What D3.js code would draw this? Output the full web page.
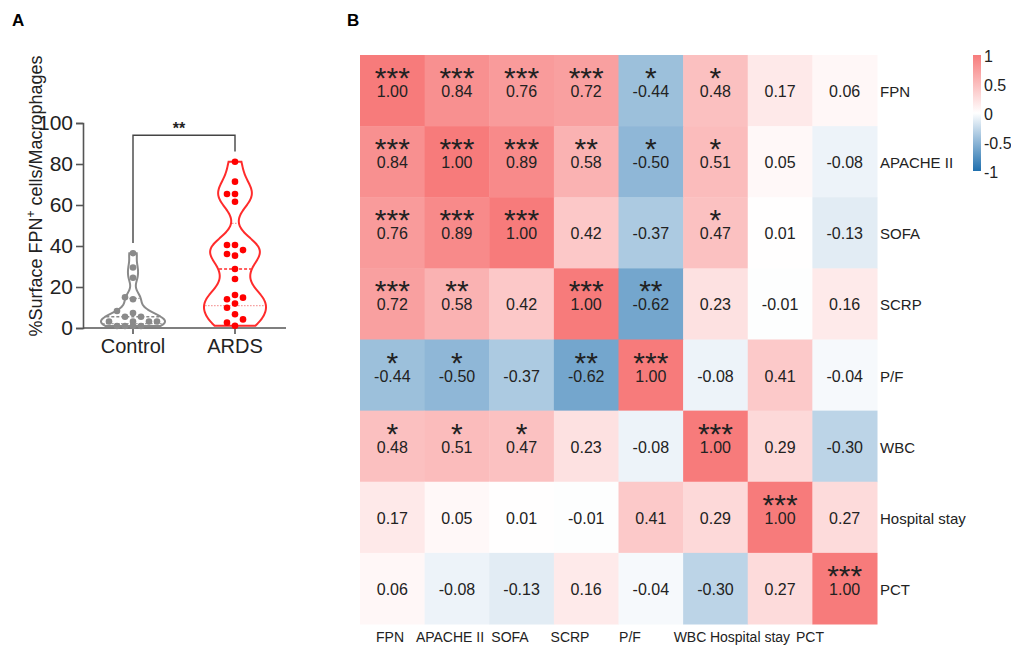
<!DOCTYPE html>
<meta charset="utf-8">
<script src="https://d3js.org/d3.v7.min.js"></script>
<style>
  body { margin: 0; background: #fff; }
  svg { font-family: "Liberation Sans", Arial, sans-serif; }
</style>
<svg id="chart" width="1011" height="646"></svg>
<script>

// ---- panel A data ----
const groups = ["Control", "ARDS"];
const controlValues = [36.5, 29.5, 24.5, 15, 14, 8.3, 7.3, 5.5, 5.5, 3.2, 3.2, 3.2, 3.2, 1, 1, 1, 1];
const ardsValues = [81.1, 71.4, 65.4, 65.4, 61.6, 40.5, 40.5, 38, 36.1, 35.3, 28.8, 23.9,
                    16.1, 14.8, 14, 11.9, 9.9, 6.7, 4.2, 2.6, 1.1];
const yTicksA = [0, 20, 40, 60, 80, 100];

// ---- panel B data (correlation matrix) ----
const vars = ["FPN", "APACHE II", "SOFA", "SCRP", "P/F", "WBC", "Hospital stay", "PCT"];
const corr = [
  [1.00, 0.84, 0.76, 0.72, -0.44, 0.48, 0.17, 0.06],
  [0.84, 1.00, 0.89, 0.58, -0.50, 0.51, 0.05, -0.08],
  [0.76, 0.89, 1.00, 0.42, -0.37, 0.47, 0.01, -0.13],
  [0.72, 0.58, 0.42, 1.00, -0.62, 0.23, -0.01, 0.16],
  [-0.44, -0.50, -0.37, -0.62, 1.00, -0.08, 0.41, -0.04],
  [0.48, 0.51, 0.47, 0.23, -0.08, 1.00, 0.29, -0.30],
  [0.17, 0.05, 0.01, -0.01, 0.41, 0.29, 1.00, 0.27],
  [0.06, -0.08, -0.13, 0.16, -0.04, -0.30, 0.27, 1.00]
];
const stars = [
  ["***", "***", "***", "***", "*", "*", "", ""],
  ["***", "***", "***", "**", "*", "*", "", ""],
  ["***", "***", "***", "", "", "*", "", ""],
  ["***", "**", "", "***", "**", "", "", ""],
  ["*", "*", "", "**", "***", "", "", ""],
  ["*", "*", "*", "", "", "***", "", ""],
  ["", "", "", "", "", "", "***", ""],
  ["", "", "", "", "", "", "", "***"]
];
const legendTicks = [1, 0.5, 0, -0.5, -1];

const svg = d3.select("#chart");

// panel letters
svg.append("text").attr("x", 12).attr("y", 26).text("A")
  .style("font-size", "17px").style("font-weight", "bold");
svg.append("text").attr("x", 347).attr("y", 26).text("B")
  .style("font-size", "17px").style("font-weight", "bold");

// ================= Panel A =================
const yA = d3.scaleLinear().domain([0, 100]).range([328, 123]);
const xA = d3.scalePoint().domain(groups).range([133, 235]);

const gA = svg.append("g");

const yAxis = gA.append("g")
  .attr("transform", "translate(83,0)")
  .call(d3.axisLeft(yA).tickValues(yTicksA).tickSize(7).tickPadding(3));
yAxis.select(".domain").attr("stroke", "#555").attr("stroke-width", 1.6);
yAxis.selectAll(".tick line").attr("stroke", "#555").attr("stroke-width", 1.6);
yAxis.selectAll("text").style("font-size", "21px").attr("fill", "#222")
  .style("font-family", "'Liberation Sans', Arial, sans-serif");

const xAxis = gA.append("g")
  .attr("transform", "translate(0,328)");
xAxis.append("line").attr("x1", 83).attr("x2", 286)
  .attr("stroke", "#555").attr("stroke-width", 1.6);
xAxis.selectAll(".xt").data(groups).enter().append("line")
  .attr("x1", d => xA(d)).attr("x2", d => xA(d)).attr("y1", 0).attr("y2", 6)
  .attr("stroke", "#555").attr("stroke-width", 1.6);
xAxis.selectAll(".xl").data(groups).enter().append("text")
  .attr("x", d => xA(d)).attr("y", 25).attr("text-anchor", "middle")
  .style("font-size", "20px").attr("fill", "#222").text(d => d);

// y title
const yTitle = gA.append("text")
  .attr("transform", "translate(42,196) rotate(-90)")
  .attr("text-anchor", "middle").style("font-size", "18px").attr("fill", "#222");
yTitle.append("tspan").text("%Surface FPN");
yTitle.append("tspan").attr("dy", -7).style("font-size", "12px").text("+");
yTitle.append("tspan").attr("dy", 7).text(" cells/Macrophages");

// violins
function kdeAt(values, h, t) {
  return d3.mean(values, v => Math.exp(-0.5 * ((t - v) / h) ** 2));
}
function quart(sorted, p) {
  const pos = (sorted.length + 1) * p - 1;
  const lo = Math.floor(pos), hi = Math.ceil(pos);
  return sorted[lo] + (sorted[hi] - sorted[lo]) * (pos - lo);
}

const violinSpecs = [
  { name: "Control", values: controlValues, h: 3.2, maxW: 32, stroke: "#8a8a8a", dot: "#8a8a8a", qcol: "#9a9a9a" },
  { name: "ARDS", values: ardsValues, h: 5.8, maxW: 31, stroke: "#ff2b2b", dot: "#ff0000", qcol: "#f59a9a" }
];

violinSpecs.forEach(s => {
  const cx = xA(s.name);
  const sorted = s.values.slice().sort(d3.ascending);
  const lo = sorted[0], hi = sorted[sorted.length - 1];
  const pts = d3.range(lo, hi, 0.25).concat([hi]).map(t => [t, kdeAt(s.values, s.h, t)]);
  const maxD = d3.max(pts, d => d[1]);
  const w = d3.scaleLinear().domain([0, maxD]).range([0, s.maxW]);

  const area = d3.area()
    .x0(d => cx - w(d[1])).x1(d => cx + w(d[1]))
    .y(d => yA(d[0])).curve(d3.curveBasis);
  gA.append("path").attr("d", area(pts))
    .attr("fill", "#fff").attr("stroke", s.stroke).attr("stroke-width", 2);

  // median and quartiles
  [[0.25, "dot"], [0.5, "med"], [0.75, "dot"]].forEach(([p, kind]) => {
    const q = quart(sorted, p);
    const ww = w(kdeAt(s.values, s.h, q));
    gA.append("line")
      .attr("x1", cx - ww + 1).attr("x2", cx + ww - 1)
      .attr("y1", yA(q)).attr("y2", yA(q))
      .attr("stroke", kind === "med" ? s.stroke : s.qcol)
      .attr("stroke-width", kind === "med" ? 1.5 : 1.2)
      .attr("stroke-dasharray", kind === "med" ? "3,2" : "1.5,1.5");
  });

  // simple beeswarm
  const placed = [];
  const step = 8, rad = 3.3;
  sorted.forEach(v => {
    const y = yA(v);
    const offs = [0, -step, step, -2 * step, 2 * step, -3 * step, 3 * step];
    let chosen = 0;
    for (const o of offs) {
      if (placed.every(p => Math.hypot(p[0] - (cx + o), p[1] - y) >= 6.8)) { chosen = o; break; }
    }
    placed.push([cx + chosen, y]);
  });
  gA.selectAll(null).data(placed).enter().append("circle")
    .attr("cx", d => d[0]).attr("cy", d => d[1]).attr("r", rad).attr("fill", s.dot);
});

// significance bracket
const brTop = yA(94);
const yL = yA(d3.max(controlValues) + 5), yR = yA(d3.max(ardsValues) + 5);
gA.append("path")
  .attr("d", `M${xA("Control")},${yL}V${brTop}H${xA("ARDS")}V${yR}`)
  .attr("fill", "none").attr("stroke", "#444").attr("stroke-width", 1.4);
gA.append("text").attr("x", 179).attr("y", 134).attr("text-anchor", "middle")
  .style("font-size", "16px").style("font-weight", "bold").attr("fill", "#222").text("**");

// ================= Panel B =================
const xB = d3.scaleBand().domain(vars).range([360, 877]);
const yB = d3.scaleBand().domain(vars).range([55, 624]);
const xLab = d3.scalePoint().domain(vars).range([390, 810]);
const color = d3.scaleLinear().domain([-1, 0, 1]).range(["#1f6fae", "#ffffff", "#f77b7b"]);

const cells = [];
vars.forEach((r, i) => vars.forEach((c, j) => cells.push({ r, c, v: corr[i][j], s: stars[i][j] })));

const gB = svg.append("g");
gB.selectAll("rect").data(cells).enter().append("rect")
  .attr("x", d => xB(d.c)).attr("y", d => yB(d.r))
  .attr("width", xB.bandwidth() + 0.5).attr("height", yB.bandwidth() + 0.5)
  .attr("fill", d => color(d.v));

gB.selectAll(".num").data(cells).enter().append("text")
  .attr("x", d => xB(d.c) + xB.bandwidth() / 2)
  .attr("y", d => yB(d.r) + 42)
  .attr("text-anchor", "middle").style("font-size", "16px").attr("fill", "#222")
  .text(d => d.v.toFixed(2));

gB.selectAll(".star").data(cells.filter(d => d.s)).enter().append("text")
  .attr("x", d => xB(d.c) + xB.bandwidth() / 2)
  .attr("y", d => yB(d.r) + 33)
  .attr("text-anchor", "middle")
  .style("font-size", "30px").attr("fill", "#222")
  .text(d => d.s);

// row labels (right)
gB.selectAll(".rl").data(vars).enter().append("text")
  .attr("x", 880).attr("y", d => yB(d) + 42)
  .style("font-size", "15px").attr("fill", "#222").text(d => d);

// column labels (bottom)
gB.selectAll(".cl").data(vars).enter().append("text")
  .attr("x", d => xLab(d)).attr("y", 642).attr("text-anchor", "middle")
  .style("font-size", "14px").attr("fill", "#222").text(d => d);

// colour legend
const yLeg = d3.scaleLinear().domain([-1, 1]).range([171, 55]);
const grad = svg.append("defs").append("linearGradient")
  .attr("id", "leg").attr("x1", 0).attr("x2", 0).attr("y1", 1).attr("y2", 0);
d3.range(-1, 1.001, 0.25).forEach(t => {
  grad.append("stop").attr("offset", (t + 1) / 2).attr("stop-color", color(t));
});
gB.append("rect").attr("x", 973).attr("y", 55).attr("width", 8).attr("height", 116)
  .attr("fill", "url(#leg)");
gB.selectAll(".lt").data(legendTicks).enter().append("text")
  .attr("x", 984).attr("y", d => yLeg(d) + 7)
  .style("font-size", "16px").attr("fill", "#222").text(d => d);

</script>
